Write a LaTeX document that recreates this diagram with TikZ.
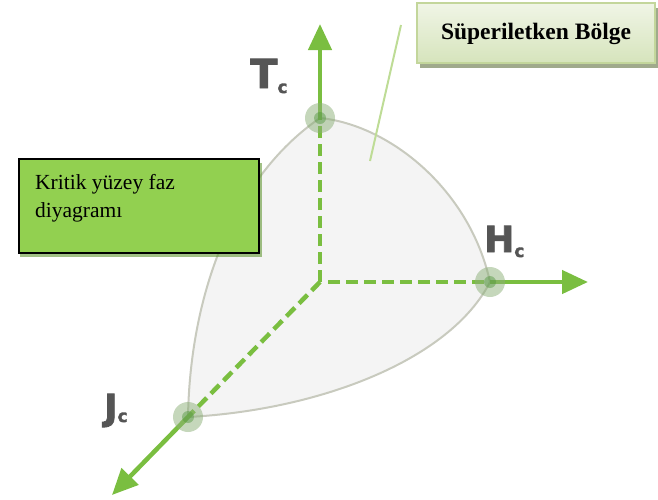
\documentclass[tikz,border=0pt]{standalone}
\usepackage{fontspec}
\setmainfont{Liberation Serif}
\newfontfamily\labfont[BoldFont={DejaVu Sans Bold}, BoldFeatures={FakeBold=2}]{DejaVu Sans}
\usetikzlibrary{arrows.meta,shadows}
\definecolor{axgreen}{RGB}{122,190,64}
\definecolor{boxgreen}{RGB}{146,208,80}
\definecolor{surfgray}{RGB}{244,244,244}
\definecolor{edgegray}{RGB}{200,202,190}
\definecolor{labgray}{RGB}{85,85,85}
\definecolor{calloutgreen}{RGB}{190,220,150}
\definecolor{topedge}{RGB}{195,214,155}
\definecolor{toptop}{RGB}{240,245,230}
\definecolor{topbot}{RGB}{214,228,188}
\definecolor{topshadow}{RGB}{160,170,140}
\definecolor{dotfill}{RGB}{140,175,120}
\definecolor{dotcore}{RGB}{80,150,60}
\tikzset{
  axis/.style={draw=axgreen, line width=4.5pt},
  dashaxis/.style={draw=axgreen, line width=4.5pt, dash pattern=on 12pt off 6pt},
  axarrow/.style={axis, -{Triangle[length=26pt,width=23pt]}},
  dotmark/.style={circle, minimum size=30pt, inner sep=0pt, fill=dotfill, fill opacity=0.5},
  dotcoremark/.style={circle, minimum size=12pt, inner sep=0pt, fill=dotcore, fill opacity=0.45},
  axlabel/.style={text=labgray, font=\labfont\bfseries, inner sep=0pt},
}
\begin{document}
\begin{tikzpicture}[x=1pt,y=-1pt]
\useasboundingbox (0,0) rectangle (658,499);
% points
\coordinate (O) at (320,282);
\coordinate (T) at (320,118);
\coordinate (H) at (490,282);
\coordinate (J) at (188,417);
\coordinate (Tend) at (320,24);
\coordinate (Hend) at (588,282);
\coordinate (Jend) at (112,495);
% surface
\fill[surfgray] (T) .. controls (390,125) and (470,190) .. (H)
   .. controls (450,360) and (320,410) .. (J)
   .. controls (190,300) and (230,180) .. (T) -- cycle;
\draw[edgegray, line width=2pt] (T) .. controls (390,125) and (470,190) .. (H)
   .. controls (450,360) and (320,410) .. (J)
   .. controls (190,300) and (230,180) .. (T);
% callout line
\coordinate (cl1) at (370,161);
\coordinate (cl2) at (401,25);
\draw[calloutgreen, line width=2pt] (cl1) -- (cl2);
% axes
\draw[dashaxis] (O) -- (T);
\draw[dashaxis] (O) ++(8,0) -- (H);
\draw[dashaxis] (O) -- (J);
\draw[axarrow] (T) -- (Tend);
\draw[axarrow] (H) -- (Hend);
\draw[axarrow] (J) -- (Jend);
% dots
\node[dotmark] (dT) at (T) {};
\node[dotmark] (dH) at (H) {};
\node[dotmark] (dJ) at (J) {};
\node[dotcoremark] (cT) at (T) {};
\node[dotcoremark] (cH) at (H) {};
\node[dotcoremark] (cJ) at (J) {};
% labels
\node[axlabel, anchor=base west] (lT) at (250,88) {\fontsize{40}{40}\selectfont T\raisebox{-5pt}{\fontsize{17}{17}\selectfont c}};
\node[axlabel, anchor=base west] (lH) at (484,252) {\fontsize{36}{36}\selectfont H\raisebox{-5pt}{\fontsize{17}{17}\selectfont c}};
\node[axlabel, anchor=base west] (lJ) at (104,420) {\fontsize{36}{36}\selectfont J\raisebox{-2pt}{\fontsize{17}{17}\selectfont c}};
% green box
\fill[axgreen!80!black, opacity=0.6] (20,163) rectangle (262,257);
\node[draw=black, line width=2.2pt, fill=boxgreen, minimum width=240pt, minimum height=94pt, inner sep=0pt, anchor=north west] (kb) at (18,158) {};
\node[anchor=base west, inner sep=0pt, align=left, font=\fontsize{21.5}{28}\selectfont] (kt) at (35,217) {Kritik yüzey faz\\diyagramı};
% top box
\fill[topshadow] (420,8) rectangle (659,68);
\node[draw=topedge, line width=2pt, top color=toptop, bottom color=topbot, minimum width=238pt, minimum height=60pt, inner sep=0pt, anchor=north west] (sb) at (416,2) {};
\node[font=\fontsize{23.5}{24}\selectfont\bfseries] (st) at ([yshift=-1pt]sb.center) {Süperiletken Bölge};
\end{tikzpicture}
\end{document}
